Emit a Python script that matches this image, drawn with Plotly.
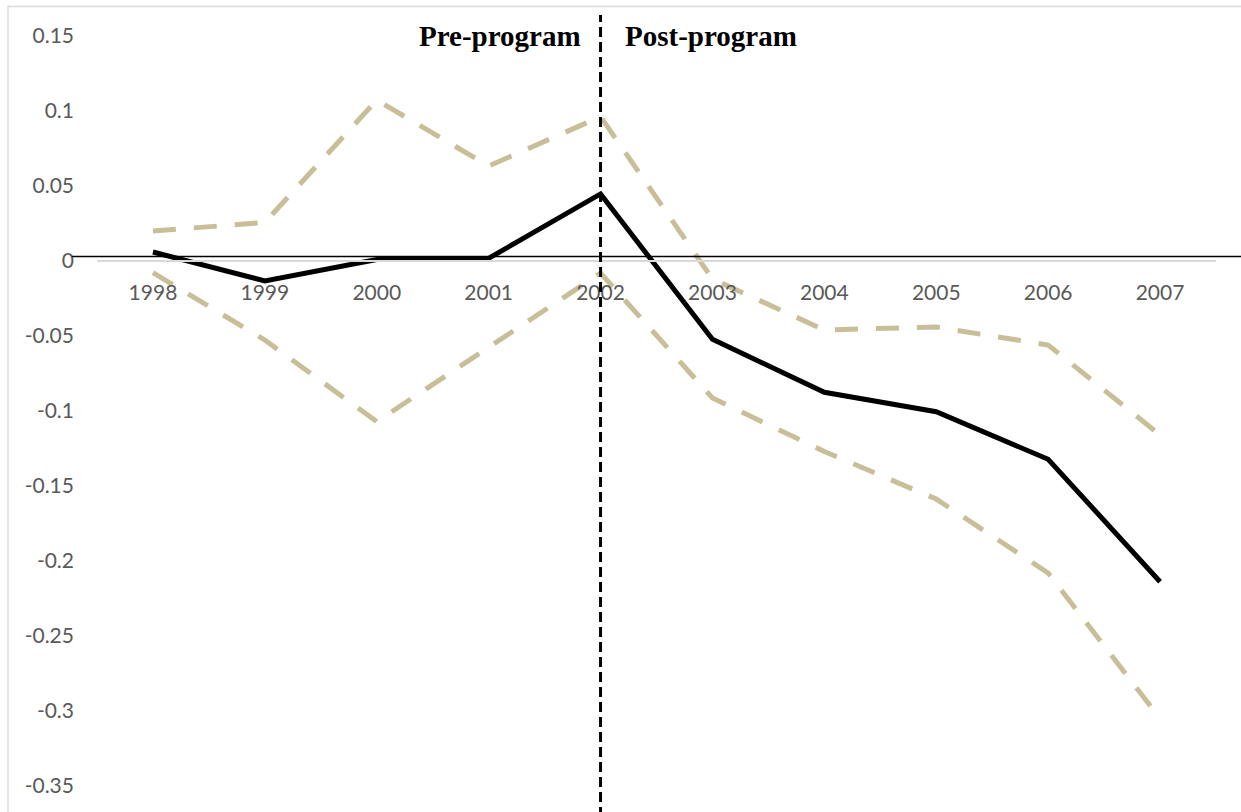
import plotly.graph_objects as go

# Event-study estimates with 95% confidence bounds
years = ["1998", "1999", "2000", "2001", "2002", "2003", "2004", "2005", "2006", "2007"]
coef = [0.006, -0.0133, 0.001, 0.0018, 0.0447, -0.0522, -0.0875, -0.1005, -0.1322, -0.2138]
ci_upper = [0.020, 0.0257, 0.1073, 0.0633, 0.0962, -0.012, -0.046, -0.044, -0.056, -0.116]
ci_lower = [-0.0078, -0.0527, -0.1071, -0.058, -0.008, -0.0913, -0.127, -0.1587, -0.208, -0.305]

y_ticks = [0.15, 0.1, 0.05, 0, -0.05, -0.1, -0.15, -0.2, -0.25, -0.3, -0.35]
y_tick_text = ["0.15", "0.1", "0.05", "0", "-0.05", "-0.1", "-0.15", "-0.2", "-0.25", "-0.3", "-0.35"]

program_year = "2002"
label_pre = "Pre-program"
label_post = "Post-program"

CI_COLOR = "#c8bf99"
TICK_COLOR = "#595959"

fig = go.Figure()

for bound in (ci_upper, ci_lower):
    fig.add_trace(go.Scatter(
        x=years, y=bound, mode="lines",
        line=dict(color=CI_COLOR, width=5, dash="23px,18px"),
        hoverinfo="skip", showlegend=False,
    ))

fig.add_trace(go.Scatter(
    x=years, y=coef, mode="lines",
    line=dict(color="#000000", width=5),
    showlegend=False,
))

W, H = 1241, 812
L, R, T, B = 97, 25, 36, 26
plot_w = W - L - R
plot_h = H - T - B

y_min, y_max = -0.35, 0.15
zero_pos = (0 - y_min) / (y_max - y_min)

# program start marker (centre of its category slot)
idx = years.index(program_year)
x_prog = (idx + 0.5) / len(years)

shapes = [
    # chart-area border
    dict(type="rect", xref="paper", yref="paper",
         x0=(8 - L) / plot_w, x1=(W + 20 - L) / plot_w,
         y0=(T + plot_h - (H + 20)) / plot_h, y1=(T + plot_h - 6.5) / plot_h,
         line=dict(color="#d9d9d9", width=1.3), fillcolor="rgba(0,0,0,0)", layer="below"),
    # black reference line at zero
    dict(type="line", xref="paper", yref="y",
         x0=(72 - L) / plot_w, x1=(W + 5 - L) / plot_w, y0=0.003, y1=0.003,
         line=dict(color="#000000", width=1.5)),
    # vertical dashed divider
    dict(type="line", xref="paper", yref="paper",
         x0=x_prog, x1=x_prog,
         y0=(T + plot_h - (H + 5)) / plot_h, y1=(T + plot_h - 15) / plot_h,
         line=dict(color="#000000", width=3, dash="10px,5px")),
]

annotations = [
    dict(text="<b>" + label_pre + "</b>", xref="paper", yref="paper",
         x=x_prog - 18 / plot_w, y=1.0, xanchor="right", yanchor="middle",
         showarrow=False, font=dict(family="Liberation Serif", size=29, color="#000000")),
    dict(text="<b>" + label_post + "</b>", xref="paper", yref="paper",
         x=x_prog + 22 / plot_w, y=1.0, xanchor="left", yanchor="middle",
         showarrow=False, font=dict(family="Liberation Serif", size=29, color="#000000")),
]

fig.update_layout(
    width=W, height=H,
    margin=dict(l=L, r=R, t=T, b=B),
    paper_bgcolor="white", plot_bgcolor="white",
    shapes=shapes, annotations=annotations,
    xaxis=dict(
        type="category", categoryorder="array", categoryarray=years,
        range=[-0.5, len(years) - 0.5],
        anchor="free", position=zero_pos,
        showline=True, linecolor="#d9d9d9", linewidth=2,
        showgrid=False, zeroline=False, ticks="",
        ticklabelstandoff=13,
        tickfont=dict(family="Lato", size=21, color=TICK_COLOR),
    ),
    yaxis=dict(
        range=[y_min, y_max],
        tickvals=y_ticks, ticktext=y_tick_text,
        showline=False, showgrid=False, zeroline=False, ticks="",
        ticklabelstandoff=22,
        tickfont=dict(family="Lato", size=21, color=TICK_COLOR),
    ),
)

fig.write_html("out.html")
